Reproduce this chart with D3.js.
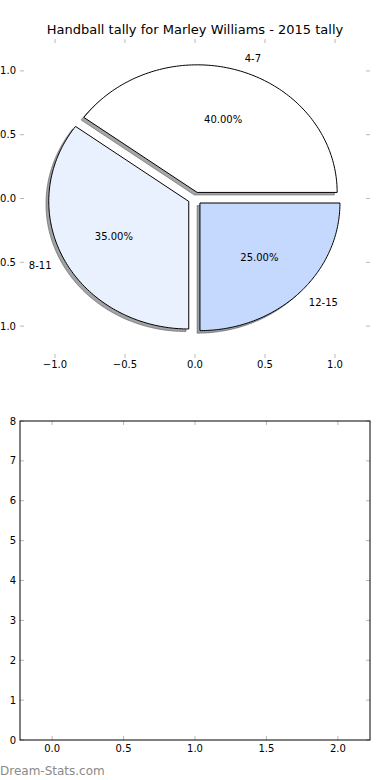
<!DOCTYPE html>
<html>
<head>
<meta charset="utf-8">
<script src="https://cdn.jsdelivr.net/npm/d3@7"></script>
<style>
  html, body { margin: 0; padding: 0; background: #fff; }
  svg { display: block; }
  text { font-family: "DejaVu Sans", sans-serif; fill: #000; }
</style>
</head>
<body>
<svg id="chart" width="390" height="780"></svg>
<script>
// ---- data ----
const title = "Handball tally for Marley Williams - 2015 tally";
const categories = ["4-7", "8-11", "12-15"];
const values = [40, 35, 25];
const pieXTicks = [-1.0, -0.5, 0.0, 0.5, 1.0];
const pieYTicks = [-1.0, -0.5, 0.0, 0.5, 1.0];
const barXTicks = [0.0, 0.5, 1.0, 1.5, 2.0];
const barYTicks = [0, 1, 2, 3, 4, 5, 6, 7, 8];
const watermark = "Dream-Stats.com";

// ---- style ----
const sliceColors = ["#ffffff", "#eaf1fe", "#c5d8fd"];
const explode = 0.05;
const tickColor = "#b8b8b8";
const tickLen = 4;

const svg = d3.select("#chart");
const fmt = d => d3.format(".1f")(d).replace("-", "\u2212");

// ---------- top: pie ----------
const px = d3.scaleLinear().domain([-1.25, 1.25]).range([20, 370]);
const py = d3.scaleLinear().domain([-1.25, 1.25]).range([358, 39]);

svg.append("text").attr("x", 195).attr("y", 34).attr("text-anchor", "middle")
  .attr("font-size", 13).text(title);

const total = d3.sum(values);
const slices = [];
let acc = 0;
values.forEach((v, i) => {
  const t1 = acc / total * 2 * Math.PI;
  acc += v;
  const t2 = acc / total * 2 * Math.PI;
  const mid = (t1 + t2) / 2;
  const cx = explode * Math.cos(mid), cy = explode * Math.sin(mid);
  const pts = [[cx, cy]];
  const n = 120;
  for (let k = 0; k <= n; k++) {
    const t = t1 + (t2 - t1) * k / n;
    pts.push([cx + Math.cos(t), cy + Math.sin(t)]);
  }
  pts.push([cx, cy]);
  slices.push({ i, v, mid, cx, cy, pts });
});

const line = (dx, dy) => d3.line().x(p => px(p[0] + dx)).y(p => py(p[1] + dy));

// shadows
slices.forEach(s => {
  const c = d3.rgb(sliceColors[s.i]);
  const sc = d3.rgb(c.r * 0.3, c.g * 0.3, c.b * 0.3);
  svg.append("path").attr("d", line(-0.02, -0.02)(s.pts) + "Z")
    .attr("fill", sc).attr("fill-opacity", 0.5)
    .attr("stroke", sc).attr("stroke-opacity", 0.5).attr("stroke-width", 1);
});
// wedges
slices.forEach(s => {
  svg.append("path").attr("d", line(0, 0)(s.pts) + "Z")
    .attr("fill", sliceColors[s.i]).attr("stroke", "#000").attr("stroke-width", 1)
    .attr("stroke-linejoin", "miter");
});
// labels
slices.forEach(s => {
  const lx = s.cx + 1.1 * Math.cos(s.mid), ly = s.cy + 1.1 * Math.sin(s.mid);
  svg.append("text").attr("x", px(lx)).attr("y", py(ly)).attr("dy", "0.35em")
    .attr("text-anchor", lx > 0 ? "start" : "end").attr("font-size", 10)
    .text(categories[s.i]);
  const tx = s.cx + 0.6 * Math.cos(s.mid), ty = s.cy + 0.6 * Math.sin(s.mid);
  svg.append("text").attr("x", px(tx)).attr("y", py(ty)).attr("dy", "0.35em")
    .attr("text-anchor", "middle").attr("font-size", 10)
    .text(d3.format(".2f")(s.v / total * 100) + "%");
});

function drawTicks(g, xs, ys, xt, yt) {
  const [x0, x1] = xs.range();
  const [y0, y1] = ys.range(); // y0 bottom, y1 top
  xt.forEach(t => {
    g.append("line").attr("x1", xs(t)).attr("x2", xs(t)).attr("y1", y0).attr("y2", y0 - tickLen)
      .attr("stroke", tickColor);
    g.append("line").attr("x1", xs(t)).attr("x2", xs(t)).attr("y1", y1).attr("y2", y1 + tickLen)
      .attr("stroke", tickColor);
  });
  yt.forEach(t => {
    g.append("line").attr("x1", x0).attr("x2", x0 + tickLen).attr("y1", ys(t)).attr("y2", ys(t))
      .attr("stroke", tickColor);
    g.append("line").attr("x1", x1).attr("x2", x1 - tickLen).attr("y1", ys(t)).attr("y2", ys(t))
      .attr("stroke", tickColor);
  });
}

const gTop = svg.append("g");
drawTicks(gTop, px, py, pieXTicks, pieYTicks);
pieXTicks.forEach(t => {
  gTop.append("text").attr("x", px(t)).attr("y", 368).attr("text-anchor", "middle")
    .attr("font-size", 10).text(fmt(t));
});
pieYTicks.forEach(t => {
  gTop.append("text").attr("x", 16).attr("y", py(t)).attr("dy", "0.35em").attr("text-anchor", "end")
    .attr("font-size", 10).text(fmt(t));
});

// ---------- bottom: empty axes ----------
const bx = d3.scaleLinear().domain([-0.225, 2.225]).range([20, 370]);
const by = d3.scaleLinear().domain([0, 8]).range([740, 421]);
const gBot = svg.append("g");
drawTicks(gBot, bx, by, barXTicks, barYTicks);
gBot.append("rect").attr("x", 20).attr("y", 421).attr("width", 350).attr("height", 319)
  .attr("fill", "none").attr("stroke", "#000").attr("stroke-width", 1);
barXTicks.forEach(t => {
  gBot.append("text").attr("x", bx(t)).attr("y", 752).attr("text-anchor", "middle")
    .attr("font-size", 10).text(d3.format(".1f")(t));
});
barYTicks.forEach(t => {
  gBot.append("text").attr("x", 16).attr("y", by(t)).attr("dy", "0.35em").attr("text-anchor", "end")
    .attr("font-size", 10).text(t);
});

svg.append("text").attr("x", 0).attr("y", 775).attr("font-size", 12)
  .style("fill", "#8a8a8a").text(watermark);
</script>
</body>
</html>
